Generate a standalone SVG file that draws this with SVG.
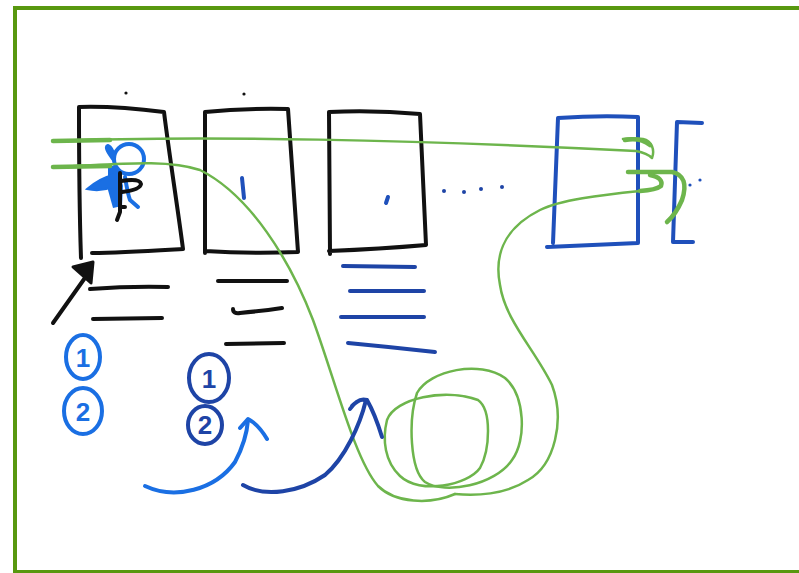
<svg xmlns="http://www.w3.org/2000/svg" width="799" height="573" viewBox="0 0 799 573">
<style>
.k{fill:none;stroke:#111;stroke-width:4;stroke-linecap:round;stroke-linejoin:round}
.lb{fill:none;stroke:#1a6fe3;stroke-width:4;stroke-linecap:round;stroke-linejoin:round}
.db{fill:none;stroke:#1e44a6;stroke-width:4;stroke-linecap:round;stroke-linejoin:round}
.mb{fill:none;stroke:#1f50bb;stroke-width:4;stroke-linecap:round;stroke-linejoin:round}
.g{fill:none;stroke:#6db54c;stroke-width:2.5;stroke-linecap:round;stroke-linejoin:round}
.gt{fill:none;stroke:#6db54c;stroke-width:4.5;stroke-linecap:round;stroke-linejoin:round}
.num{font-family:"Liberation Sans",Arial,sans-serif;font-size:26px;text-anchor:middle}
</style>
<rect x="0" y="0" width="799" height="573" fill="#fff"/>
<rect x="15" y="8" width="792" height="564" fill="#fff" stroke="#58980f" stroke-width="4"/>

<g id="box1">
<path class="k" d="M81,258 C79,200 79,150 79,107 C110,106 140,109 164,112 C170,160 178,210 183,249 C150,251 120,253 92,253"/>
<circle cx="126" cy="93" r="1.6" fill="#111"/>
<path class="k" d="M90,289 Q130,286 168,287"/>
<path class="k" d="M93,319 L162,318"/>
</g>

<g id="figure">
<circle class="lb" cx="129" cy="159" r="15"/>
<path class="lb" d="M114,160 Q104,147 108,146 Q112,148 114,156"/>
<path d="M108,165 L119,167 L123,186 L122,206 L113,208 L108,190 Z" fill="#1a6fe3"/>
<path d="M87,189 Q100,178 113,175 L113,187 Q100,192 87,189 Z" fill="#1a6fe3" stroke="#1a6fe3" stroke-width="2"/>
<path class="lb" d="M125,177 Q128,195 130,200 L138,207"/>
<path class="k" d="M120,173 L120,212 L117,220 M120,207 L125,207"/>
<path class="k" d="M121,181 Q140,178 141,184 Q140,190 122,192"/>
</g>

<g id="box2">
<path class="k" d="M205,253 L205,112 Q245,108 288,109 L298,252 Q250,254 205,251"/>
<circle cx="244" cy="94" r="1.6" fill="#111"/>
<path d="M242,178 L244,198" fill="none" stroke="#1f50bb" stroke-width="4" stroke-linecap="round"/>
<path class="k" d="M218,281 L287,281"/>
<path class="k" d="M233,309 Q233,314 240,313 Q262,311 282,308"/>
<path class="k" d="M226,344 L284,343"/>
</g>

<g id="box3">
<path class="k" d="M330,254 L329,112 Q375,110 420,114 L426,245 Q380,249 329,251"/>
<path d="M386,203 L388,197" fill="none" stroke="#1f50bb" stroke-width="4" stroke-linecap="round"/>
<path class="db" d="M343,266 L415,267"/>
<path class="db" d="M350,291 L424,291"/>
<path class="db" d="M341,317 L424,317"/>
<path class="db" d="M348,343 Q390,347 435,352"/>
</g>

<g id="dots" fill="#1e44a6">
<circle cx="444" cy="191" r="2"/>
<circle cx="464" cy="192" r="2"/>
<circle cx="481" cy="189" r="2"/>
<circle cx="502" cy="187" r="2"/>
</g>

<g id="box4">
<path class="mb" d="M553,243 L558,118 Q600,115 638,117 L638,243 Q595,245 547,247"/>
</g>

<g id="bracket">
<path class="mb" d="M702,123 L677,122 L673,242 L693,242"/>
<circle cx="690" cy="185" r="1.6" fill="#1f50bb"/>
<circle cx="700" cy="180" r="1.6" fill="#1f50bb"/>
</g>

<g id="labels1">
<ellipse class="lb" cx="83" cy="357" rx="17" ry="22"/>
<text class="num" x="83" y="367" fill="#1a6fe3" font-weight="bold">1</text>
<ellipse class="lb" cx="83" cy="411" rx="19" ry="23"/>
<text class="num" x="83" y="421" fill="#1a6fe3" font-weight="bold">2</text>
</g>

<g id="labels2">
<ellipse class="db" cx="209" cy="378" rx="20" ry="24"/>
<text class="num" x="209" y="388" fill="#1e44a6" font-weight="bold">1</text>
<ellipse class="db" cx="205" cy="425" rx="17" ry="19"/>
<text class="num" x="205" y="434" fill="#1e44a6" font-weight="bold">2</text>
</g>

<g id="connectors">
<path class="k" d="M53,323 L87,275"/>
<polygon points="73,267 93,262 91,283" fill="#111" stroke="#111" stroke-width="3" stroke-linejoin="round"/>
<path class="gt" d="M53,141 L110,140"/>
<path class="g" d="M53,141 C200,135 420,140 636,151 C646,153 650,156 652,158 C655,150 652,141 643,139 C636,138 628,138 623,139"/>
<path class="gt" d="M625,140 Q640,137 650,145"/>
<path class="gt" d="M53,167 L110,166"/>
<path class="g" d="M53,167 C110,165 165,158 200,170 C250,195 290,260 313,320 C335,380 355,460 378,486 C395,503 430,505 455,494"/>
<path class="gt" d="M628,172 L672,172 Q690,176 682,200 Q676,214 667,222"/>
<path class="gt" d="M650,175 Q664,178 661,186 Q656,190 640,191"/>
<path class="g" d="M640,191 C600,195 560,200 540,210 C500,230 495,260 500,285 C505,320 535,350 552,385 C565,420 555,465 528,480 C505,495 475,496 455,494"/>
<path class="g" d="M417,393 C430,370 480,360 505,378 C525,395 527,440 512,460 C495,485 445,495 425,482 C410,470 408,420 417,393 Z"/>
<path class="g" d="M387,420 C395,398 445,388 478,400 C492,410 490,450 480,468 C468,485 420,495 400,476 C385,462 382,440 387,420 Z"/>
<path class="lb" d="M145,486 C175,500 215,490 235,462 C243,447 247,433 248,420"/>
<path class="lb" d="M240,428 L248,419 Q258,424 267,439"/>
<path class="db" d="M243,485 C265,498 300,492 325,475 C345,458 360,425 366,400"/>
<path class="db" d="M350,409 Q358,397 367,400 Q375,414 382,437 M352,406 Q362,396 368,402"/>
</g>
</svg>
